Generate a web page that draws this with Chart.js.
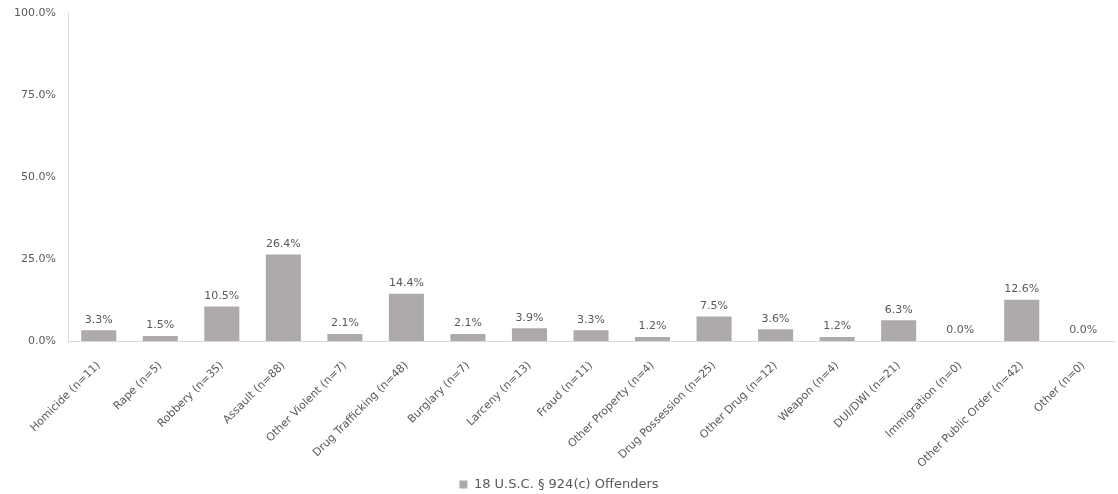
<!DOCTYPE html>
<html lang="en">
<head>
    <meta charset="UTF-8">
    <script src="https://cdn.jsdelivr.net/npm/chart.js"></script>
    <title>18 U.S.C. § 924(c) Offenders</title>
    <style>
        html, body { margin: 0; padding: 0; background: #fff; }
        #wrap { width: 1118px; height: 494px; position: relative; }
    </style>
</head>
<body>
    <div id="wrap"><canvas id="offenseChart"></canvas></div>

    <script>
        // Offense categories and share of offenders in each
        const categories = [
            'Homicide (n=11)', 'Rape (n=5)', 'Robbery (n=35)', 'Assault (n=88)',
            'Other Violent (n=7)', 'Drug Trafficking (n=48)', 'Burglary (n=7)',
            'Larceny (n=13)', 'Fraud (n=11)', 'Other Property (n=4)',
            'Drug Possession (n=25)', 'Other Drug (n=12)', 'Weapon (n=4)',
            'DUI/DWI (n=21)', 'Immigration (n=0)', 'Other Public Order (n=42)', 'Other (n=0)'
        ];
        const percents = [3.3, 1.5, 10.5, 26.4, 2.1, 14.4, 2.1, 3.9, 3.3, 1.2, 7.5, 3.6, 1.2, 6.3, 0.0, 12.6, 0.0];
        const yTicks = [0, 25, 50, 75, 100];
        const seriesName = '18 U.S.C. § 924(c) Offenders';

        const FONT = "'DejaVu Sans', sans-serif";
        const TEXT = '#595959';

        // value labels above each bar
        const barLabels = {
            id: 'barLabels',
            afterDatasetsDraw(chart) {
                const ctx = chart.ctx;
                const meta = chart.getDatasetMeta(0);
                ctx.save();
                ctx.font = '11px ' + FONT;
                ctx.fillStyle = TEXT;
                ctx.textAlign = 'center';
                ctx.textBaseline = 'bottom';
                meta.data.forEach((bar, i) => {
                    ctx.fillText(percents[i].toFixed(1) + '%', bar.x, bar.y - 5);
                });
                ctx.restore();
            }
        };

        let ctx = document.getElementById('offenseChart').getContext('2d');
        let chart = new Chart(ctx, {
            type: 'bar',
            data: {
                labels: categories,
                datasets: [{
                    label: seriesName,
                    data: percents,
                    backgroundColor: '#AEAAAA',
                    categoryPercentage: 1.0,
                    barPercentage: 0.57
                }]
            },
            options: {
                responsive: true,
                maintainAspectRatio: false,
                animation: false,
                // legend box carries 10px of slack under its text, let it hang off the bottom
                layout: { padding: { left: 4, right: 4, top: 13, bottom: -7 } },
                scales: {
                    x: {
                        grid: { display: false },
                        border: { display: true, color: '#D9D9D9', width: 1 },
                        afterFit: axis => {
                            // keep the slanted labels from widening the left margin
                            axis.paddingLeft = 0;
                            axis.paddingRight = 0;
                            axis.height = 134;
                        },
                        ticks: {
                            color: TEXT,
                            font: { family: FONT, size: 11 },
                            minRotation: 45,
                            maxRotation: 45,
                            autoSkip: false,
                            padding: 10
                        }
                    },
                    y: {
                        min: 0,
                        max: 100,
                        afterBuildTicks: axis => { axis.ticks = yTicks.map(v => ({ value: v })); },
                        afterFit: axis => { axis.width = 64; },
                        grid: { display: false },
                        border: { display: true, color: '#D9D9D9', width: 1 },
                        ticks: {
                            color: TEXT,
                            font: { family: FONT, size: 11 },
                            padding: 4,
                            callback: v => v.toFixed(1) + '%'
                        }
                    }
                },
                plugins: {
                    legend: {
                        position: 'bottom',
                        labels: {
                            color: TEXT,
                            font: { family: FONT, size: 13 },
                            boxWidth: 8,
                            boxHeight: 8,
                            padding: 3
                        }
                    },
                    tooltip: { enabled: false }
                }
            },
            plugins: [barLabels]
        });
    </script>
</body>
</html>
